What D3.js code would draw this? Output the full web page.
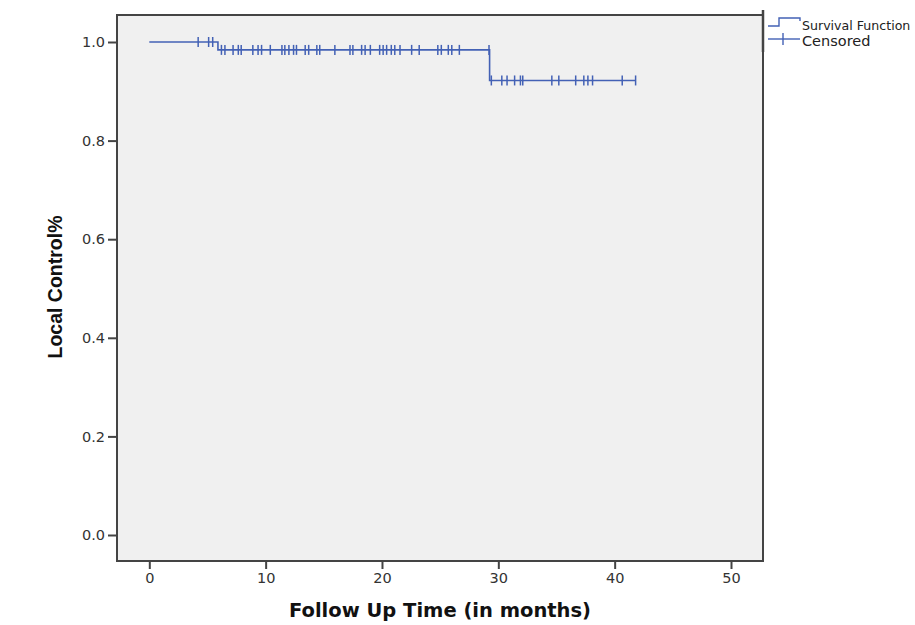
<!DOCTYPE html>
<html><head><meta charset="utf-8">
<script src="https://cdn.jsdelivr.net/npm/d3@7"></script>
<style>body{margin:0;background:#fff;overflow:hidden}svg{display:block}</style>
</head><body>
<svg id="c" width="915" height="625"></svg>
<script>
// Kaplan-Meier step curve
const stepTimes = [0, 5.9, 29.25];
const stepSurv  = [1.0, 0.984, 0.922];
const endTime   = 41.8;
// Censored observations (months)
const censorTimes = [4.2, 5.1, 5.45,
  6.2, 6.5, 7.2, 7.65, 7.9, 8.9, 9.35, 9.65, 10.4, 11.4, 11.65, 12.0, 12.4, 12.65, 13.4, 13.7,
  14.4, 14.65, 15.95, 17.25, 17.5, 18.25, 18.55, 19.0, 19.8, 20.1, 20.4, 20.8, 21.1, 21.55,
  22.55, 23.2, 24.8, 25.1, 25.7, 26.0, 26.65, 29.2,
  29.4, 30.3, 30.75, 31.4, 31.9, 32.1, 34.6, 35.2, 36.65, 37.35, 37.7, 38.1, 40.65, 41.8];
const xTicks = [0, 10, 20, 30, 40, 50];
const yTicks = [0.0, 0.2, 0.4, 0.6, 0.8, 1.0];
const legendLabels = ["Survival Function", "Censored"];

const svg = d3.select("#c");
const frame = {l: 117, r: 763, t: 15, b: 561};
const x = d3.scaleLinear().domain([0, 50]).range([149.3, 731]);
const y = d3.scaleLinear().domain([0, 1]).range([535, 42]);
const blue = "#4361b5";
const axisCol = "#444";

svg.append("rect").attr("x", frame.l).attr("y", frame.t)
  .attr("width", frame.r - frame.l).attr("height", frame.b - frame.t)
  .attr("fill", "#f0f0f0").attr("stroke", axisCol).attr("stroke-width", 2);

// Axes
const xAxis = svg.append("g").attr("transform", `translate(0,${frame.b})`)
  .call(d3.axisBottom(x).tickValues(xTicks).tickFormat(d3.format("d")).tickSize(8).tickPadding(4));
const yAxis = svg.append("g").attr("transform", `translate(${frame.l},0)`)
  .call(d3.axisLeft(y).tickValues(yTicks).tickFormat(d3.format(".1f")).tickSize(9).tickPadding(3));
[xAxis, yAxis].forEach(g => {
  g.select(".domain").remove();
  g.selectAll(".tick line").attr("stroke", axisCol).attr("stroke-width", 2);
  g.selectAll(".tick text").attr("fill", "#333").style("font-family", "DejaVu Sans, Verdana, sans-serif").style("font-size", "14.5px");
});

// Survival step curve
const pts = stepTimes.map((t, i) => [t, stepSurv[i]]);
pts.push([endTime, stepSurv[stepSurv.length - 1]]);
const line = d3.line().x(d => x(d[0])).y(d => y(d[1])).curve(d3.curveStepAfter);
svg.append("path").datum(pts).attr("d", line)
  .attr("fill", "none").attr("stroke", blue).attr("stroke-width", 1.6);

function survAt(t) {
  let s = stepSurv[0];
  stepTimes.forEach((st, i) => { if (t >= st) s = stepSurv[i]; });
  return s;
}
svg.append("g").selectAll("line").data(censorTimes).join("line")
  .attr("x1", d => x(d)).attr("x2", d => x(d))
  .attr("y1", d => y(survAt(d)) - 5).attr("y2", d => y(survAt(d)) + 5)
  .attr("stroke", blue).attr("stroke-width", 1.5);

// Axis titles
svg.append("text").attr("x", 440).attr("y", 617).attr("text-anchor", "middle")
  .style("font-family", "DejaVu Sans, Verdana, sans-serif").style("font-weight", "bold").style("font-size", "19.5px")
  .attr("fill", "#111").text("Follow Up Time (in months)");
svg.append("text").attr("transform", "translate(62,287) rotate(-90)").attr("text-anchor", "middle")
  .style("font-family", "Liberation Sans, Arial, sans-serif").style("font-weight", "bold").style("font-size", "19.5px")
  .attr("fill", "#111").text("Local Control%");

// Legend
const lg = svg.append("g");
lg.append("line").attr("x1", 763).attr("x2", 763).attr("y1", 10).attr("y2", 52).attr("stroke", axisCol).attr("stroke-width", 2.5);
lg.append("path").attr("d", "M768,26H779V18H800V21").attr("fill", "none").attr("stroke", blue).attr("stroke-width", 1.4);
lg.append("line").attr("x1", 768).attr("x2", 800).attr("y1", 39).attr("y2", 39).attr("stroke", blue).attr("stroke-width", 1.4);
lg.append("line").attr("x1", 783).attr("x2", 783).attr("y1", 33).attr("y2", 45).attr("stroke", blue).attr("stroke-width", 1.4);
lg.selectAll("text").data(legendLabels).join("text")
  .attr("x", 802).attr("y", (d, i) => 30 + i * 15.5)
  .style("font-family", "DejaVu Sans, Verdana, sans-serif").style("font-size", (d, i) => i === 0 ? "12.6px" : "14.5px").attr("fill", "#222")
  .text(d => d);
</script>
</body></html>
